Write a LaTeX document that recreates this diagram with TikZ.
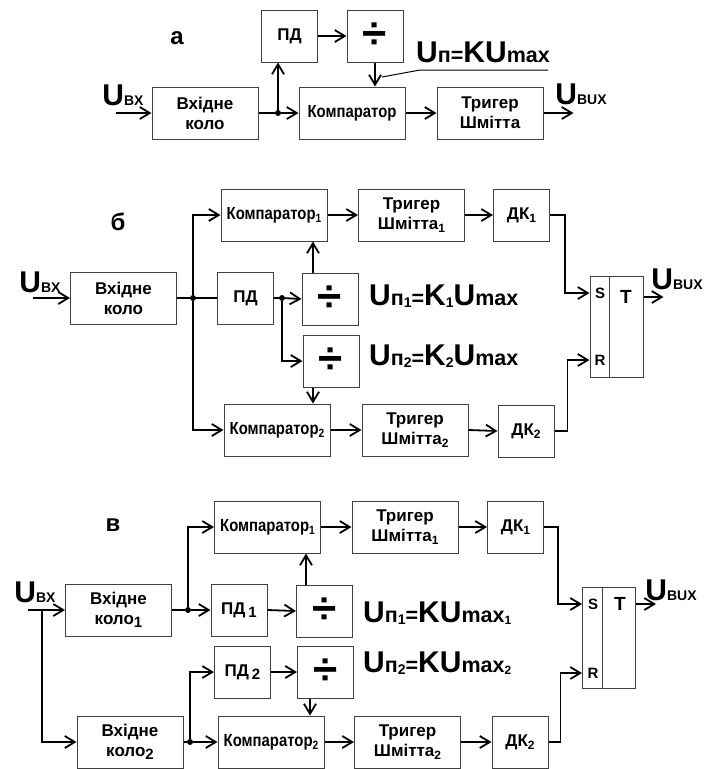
\documentclass[tikz,border=0pt]{standalone}
\usepackage{fontspec}
\setmainfont{Liberation Sans}
\newfontfamily\narrowfont{Liberation Sans}[FakeStretch=0.85]
\usetikzlibrary{arrows.meta}
\newcommand\lowidx[2][12]{\raisebox{-0.35ex}{\fontsize{#1}{#1}\selectfont #2}}
\newcommand\bigt[1]{{\fontsize{30}{30}\selectfont #1}}
\newcommand\midt[1]{{\fontsize{21.5}{21.5}\selectfont #1}}
\newcommand\capt[1]{{\fontsize{14}{14}\selectfont #1}}

\begin{document}
\begin{tikzpicture}
    [x=1pt, y=-1pt,
    Block/.style={rectangle, draw=black!75, line width=1pt, minimum width=106pt, minimum height=52pt, inner sep=0pt, align=center, font=\fontsize{17}{20}\selectfont\bfseries},
    Small/.style={Block, minimum width=56pt},
    Comp/.style={Block, font=\fontsize{17.5}{20}\selectfont\narrowfont\bfseries},
    Div/.style={Small, font=\fontsize{44}{44}\selectfont\bfseries},
    Flip/.style={rectangle, draw=black!75, line width=1pt, minimum width=53pt, minimum height=101pt, inner sep=0pt},
    Tag/.style={inner sep=0pt, font=\bfseries},
    Pin/.style={Tag, font=\fontsize{15}{15}\selectfont\bfseries},
    Title/.style={Tag, font=\fontsize{24}{24}\selectfont\bfseries},
    Wire/.style={line width=1.8pt, -{Straight Barb[length=10pt, width=12pt, line width=1.8pt]}},
    Line/.style={line width=1.8pt},
    Dot/.style={circle, fill=black, inner sep=0pt, minimum size=6pt},
    ]
    \useasboundingbox (0,0) rectangle (714,769);

    % a
    \node[Title] (tagA) at (177,38) {а};
    \node[Block] (inA) at (205,113) {Вхідне\\коло};
    \node[Small] (pdA) at (289.5,36) {ПД};
    \node[Div] (divA) at (375,36) {÷};
    \node[Comp] (compA) at (352,113) {Компаратор};
    \node[Block] (trigA) at (490,113) {Тригер\\Шмітта};
    \node[Tag] (ubxA) at (123,95) {\bigt{U}\capt{BX}};
    \node[Tag] (ubuxA) at (581,94) {\bigt{U}\capt{BUX}};
    \node[Tag] (unA) at (483,52) {\bigt{U}\midt{п=}\bigt{KU}\midt{max}};
    \node[Dot] (jA) at (278,113) {};
    \coordinate (inpA) at (116,113);
    \coordinate (ulA) at (420,70);

    \draw[Wire] (inpA) -- (inA.west);
    \draw[Line] (inA.east) -- (jA);
    \draw[Wire] (jA) -- (compA.west);
    \draw[Wire] (jA) -- (jA |- pdA.south);
    \draw[Wire] (pdA.east) -- (divA.west);
    \draw[Wire] (divA.south) -- (divA.south |- compA.north);
    \draw[Wire] (compA.east) -- (trigA.west);
    \draw[Wire] (trigA.east) -- ++(30,0);
    \draw[line width=1pt] (382,77) -- (ulA) -- ++(128,0);

    % b
    \node[Title] (tagB) at (118,222) {б};
    \node[Block] (inB) at (123.5,298) {Вхідне\\коло};
    \node[Comp] (comp1B) at (274,215) {Компаратор\lowidx{1}};
    \node[Small] (pdB) at (245.5,298) {ПД};
    \node[Div] (div1B) at (330,299) {÷};
    \node[Div] (div2B) at (331,361) {÷};
    \node[Comp] (comp2B) at (277,430) {Компаратор\lowidx{2}};
    \node[Block] (trig1B) at (411.5,215) {Тригер\\Шмітта\lowidx{1}};
    \node[Small] (dk1B) at (521.5,215) {ДК\lowidx{1}};
    \node[Block] (trig2B) at (415,430) {Тригер\\Шмітта\lowidx{2}};
    \node[Small] (dk2B) at (526,431) {ДК\lowidx{2}};
    \node[Flip] (ffB) at (616.5,326.5) {};
    \node[Pin] (sB) at (600,293) {S};
    \node[Pin] (rB) at (600,360) {R};
    \node[Tag, font=\fontsize{19}{19}\selectfont\bfseries] (tB) at (626,297) {T};
    \node[Tag] (ubxB) at (40,282) {\bigt{U}\capt{BX}};
    \node[Tag] (ubuxB) at (677,279) {\bigt{U}\capt{BUX}};
    \node[Tag, anchor=west] (un1B) at (369,296) {\bigt{U}\midt{п}\lowidx[14]{1}\midt{=}\bigt{K}\lowidx[14]{1}\bigt{U}\midt{max}};
    \node[Tag, anchor=west] (un2B) at (369,356) {\bigt{U}\midt{п}\lowidx[14]{2}\midt{=}\bigt{K}\lowidx[14]{2}\bigt{U}\midt{max}};
    \node[Dot] (jB) at (193,298) {};
    \node[Dot] (kB) at (282,298) {};
    \coordinate (inpB) at (33,298);

    \draw[line width=1pt, black!75] ([xshift=20pt]ffB.north west) -- ([xshift=20pt]ffB.south west);
    \draw[Wire] (inpB) -- (inB.west);
    \draw[Line] (inB.east) -- (jB) -- (pdB.west);
    \draw[Wire] (jB) |- (comp1B.west);
    \draw[Wire] (jB) |- (comp2B.west);
    \draw[Line] (pdB.east) -- (kB);
    \draw[Wire] (kB) -- (div1B.west);
    \draw[Wire] (kB) |- (div2B.west);
    \draw[Wire] ([xshift=-17pt]div1B.north) -- ([xshift=-17pt]div1B.north |- comp1B.south);
    \draw[Wire] ([xshift=-18pt]div2B.south) -- ([xshift=-18pt]div2B.south |- comp2B.north);
    \draw[Wire] (comp1B.east) -- (trig1B.west);
    \draw[Wire] (trig1B.east) -- (dk1B.west);
    \draw[Wire] (comp2B.east) -- (trig2B.west);
    \draw[Wire] (trig2B.east) -- (dk2B.west);
    \draw[Wire] (dk1B.east) -- ++(15,0) |- (ffB.west |- sB);
    \draw[Wire] (dk2B.east) -- ++(13,0) |- (ffB.west |- rB);
    \draw[Wire] (ffB.east |- tB) -- ++(20,0);

    % c
    \node[Title] (tagC) at (113,525) {в};
    \node[Comp] (comp1C) at (267.5,527) {Компаратор\lowidx{1}};
    \node[Block] (trig1C) at (405,527) {Тригер\\Шмітта\lowidx{1}};
    \node[Small] (dk1C) at (515.5,527) {ДК\lowidx{1}};
    \node[Block] (in1C) at (118.5,610) {Вхідне\\коло\lowidx[15]{1}};
    \node[Small] (pd1C) at (239,610) {ПД\,\lowidx[15]{1}};
    \node[Div] (div1C) at (324.5,611) {÷};
    \node[Small] (pd2C) at (242.5,672) {ПД\,\lowidx[15]{2}};
    \node[Div] (div2C) at (325.5,672) {÷};
    \node[Block] (in2C) at (130,742) {Вхідне\\коло\lowidx[15]{2}};
    \node[Comp] (comp2C) at (271,742) {Компаратор\lowidx{2}};
    \node[Block] (trig2C) at (407.5,742) {Тригер\\Шмітта\lowidx{2}};
    \node[Small] (dk2C) at (520,742) {ДК\lowidx{2}};
    \node[Flip] (ffC) at (609,637.5) {};
    \node[Pin] (sC) at (593,604) {S};
    \node[Pin] (rC) at (593,673) {R};
    \node[Tag, font=\fontsize{19}{19}\selectfont\bfseries] (tC) at (620,604) {T};
    \node[Tag] (ubxC) at (35,592) {\bigt{U}\capt{BX}};
    \node[Tag] (ubuxC) at (671,590) {\bigt{U}\capt{BUX}};
    \node[Tag, anchor=west] (un1C) at (363,613) {\bigt{U}\midt{п}\lowidx[14]{1}\midt{=}\bigt{KU}\midt{max}\lowidx[12]{1}};
    \node[Tag, anchor=west] (un2C) at (363,663) {\bigt{U}\midt{п}\lowidx[14]{2}\midt{=}\bigt{KU}\midt{max}\lowidx[12]{2}};
    \node[Dot] (jC1) at (188,610) {};
    \node[Dot] (jC2) at (190,742) {};
    \coordinate (inpC) at (28,610);
    \coordinate (brC) at (42,610);

    \draw[line width=1pt, black!75] ([xshift=20pt]ffC.north west) -- ([xshift=20pt]ffC.south west);
    \draw[Wire] (inpC) -- (in1C.west);
    \draw[Wire] (brC) |- (in2C.west);
    \draw[Line] (in1C.east) -- (jC1);
    \draw[Wire] (jC1) -- (pd1C.west);
    \draw[Wire] (jC1) |- (comp1C.west);
    \draw[Wire] (pd1C.east) -- (div1C.west);
    \draw[Wire] ([xshift=-18.5pt]div1C.north) -- ([xshift=-18.5pt]div1C.north |- comp1C.south);
    \draw[Line] (in2C.east) -- (jC2);
    \draw[Wire] (jC2) -- (comp2C.west);
    \draw[Wire] (jC2) |- (pd2C.west);
    \draw[Wire] (pd2C.east) -- (div2C.west);
    \draw[Wire] ([xshift=-15.5pt]div2C.south) -- ([xshift=-15.5pt]div2C.south |- comp2C.north);
    \draw[Wire] (comp1C.east) -- (trig1C.west);
    \draw[Wire] (trig1C.east) -- (dk1C.west);
    \draw[Wire] (comp2C.east) -- (trig2C.west);
    \draw[Wire] (trig2C.east) -- (dk2C.west);
    \draw[Wire] (dk1C.east) -- ++(14,0) |- (ffC.west |- sC);
    \draw[Wire] (dk2C.east) -- ++(12,0) |- (ffC.west |- rC);
    \draw[Wire] (ffC.east |- tC) -- ++(20,0);

\end{tikzpicture}
\end{document}
